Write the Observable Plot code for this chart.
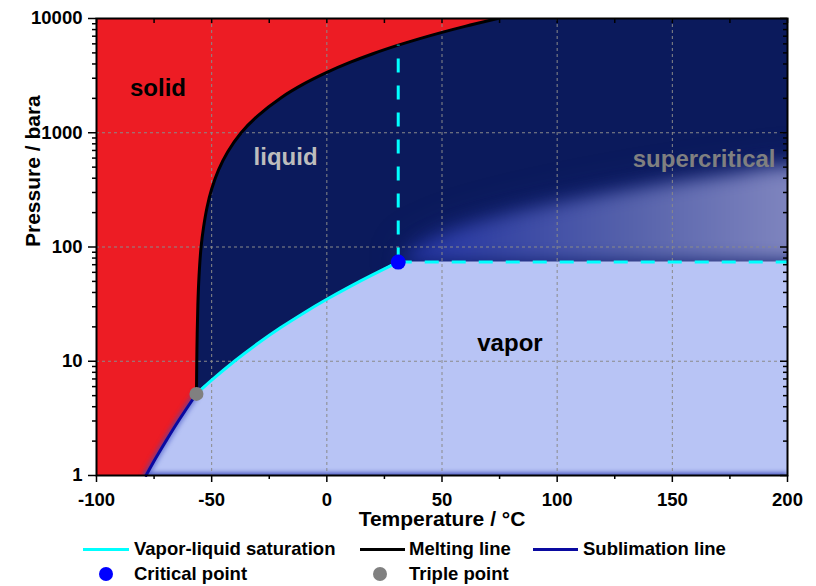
<!DOCTYPE html>
<html>
<head>
<meta charset="utf-8">
<script src="https://cdn.jsdelivr.net/npm/d3@7"></script>
<script src="https://cdn.jsdelivr.net/npm/@observablehq/plot@0.6"></script>
<style>
  body { margin: 0; background: #fff; font-family: "Liberation Sans", Arial, sans-serif; }
  #wrap { position: relative; width: 816px; height: 586px; }
  #legend { position: absolute; left: 0; top: 532px; width: 816px; height: 54px;
            font-weight: bold; font-size: 18.5px; color: #000; }
  .swatch-line { position: absolute; height: 3px; }
  .swatch-dot { position: absolute; border-radius: 50%; }
  .legend-text { position: absolute; white-space: nowrap; line-height: 1; transform: translateY(-50%); }
</style>
</head>
<body>
<div id="wrap">
  <div id="chart"></div>
  <div id="legend"></div>
</div>
<script>
// CO2 phase diagram: temperature (°C) vs pressure (bara, log scale)

// Axis ticks
const tempTicks = [-100, -50, 0, 50, 100, 150, 200];
const tempMinorTicks = [-75, -25, 25, 75, 125, 175];
const pressureTicks = [1, 10, 100, 1000, 10000];

// Sublimation line (solid / vapor)
const sublimationT = [-78.5, -75, -70, -65, -60, -56.6];
const sublimationP = [1.0, 1.34, 1.98, 2.88, 4.10, 5.18];

// Vapor-liquid saturation line (triple point to critical point)
const saturationT = [-56.6, -50, -40, -30, -20, -10, 0, 10, 20, 25, 31.0];
const saturationP = [5.18, 6.82, 10.05, 14.28, 19.70, 26.49, 34.85, 45.02, 57.29, 64.34, 73.8];

// Melting line (solid / liquid)
const meltingT = [-56.6, -56.4, -56.0, -55.5, -54.6, -53.5, -52.0, -50.0, -47.0, -43.0, -37.2,
                  -30.0, -20.0, -10.0, 0.0, 10.0, 20.0, 31.0, 40.0, 50.0, 60.0, 74.2];
const meltingP = [5.18, 12.6, 31, 55, 100, 150, 223, 322, 473, 681, 1000,
                  1407, 2018, 2675, 3376, 4123, 4916, 5840, 6636, 7565, 8540, 10000];

// Lighter, gas-like part of the supercritical region
const supercriticalT = [31, 40, 50, 75, 100, 125, 150, 175, 200];
const supercriticalP = [73.8, 100, 125, 180, 235, 295, 360, 425, 500];

// Special points
const criticalPoint = {T: 31.0, p: 73.8};
const triplePoint = {T: -56.6, p: 5.18};

// Region labels
const regionNames = ["solid", "liquid", "supercritical", "vapor"];
const regionT = [-73.3, -17.9, 163.8, 79.5];
const regionP = [2440, 607, 584, 14.3];
const regionColors = ["#000000", "#bdbdbd", "#808080", "#000000"];

// Legend entries
const legendLabels = ["Vapor-liquid saturation", "Melting line", "Sublimation line", "Critical point", "Triple point"];
const legendColors = ["#00ffff", "#000000", "#0a0aa0", "#0000ff", "#808080"];
const legendKinds = ["line", "line", "line", "dot", "dot"];

// Colours of the phase areas
const solidColor = "#ed1c24";
const liquidColor = "#0b1a5c";
const vaporColor = "#b8c4f5";

const W = 816, H = 532;
const mTop = 18, mBottom = 57, mLeft = 96, mRight = 29;
const frameW = W - mLeft - mRight;
const frameH = H - mTop - mBottom;
const xDomain = [tempTicks[0], tempTicks[tempTicks.length - 1]];
const yDomain = [pressureTicks[0], pressureTicks[pressureTicks.length - 1]];

const zip = (T, P) => T.map((t, i) => ({T: t, p: P[i]}));
const sublimation = zip(sublimationT, sublimationP);
const saturation = zip(saturationT, saturationP);
const melting = zip(meltingT, meltingP);
// the haze is carried a little past the right edge so the blur does not fade there
const supercritical = zip(supercriticalT, supercriticalP);
const last = supercritical[supercritical.length - 1];
const haze = [...supercritical, {T: last.T + 25, p: last.p}];
const vaporEdge = [...sublimation, ...saturation.slice(1), {T: xDomain[1], p: criticalPoint.p}];
const meltingAtCritical = meltingP[meltingT.indexOf(criticalPoint.T)];

const pressureMinorTicks = [];
for (const decade of pressureTicks.slice(0, -1)) {
  for (let k = 2; k <= 9; k++) pressureMinorTicks.push(decade * k);
}

const topTicks = [...tempTicks, ...tempMinorTicks];

const glowColors = {bottom: "#2b39b3", subl: "#3848c1", halo: "#24349f"};

const plot = Plot.plot({
  width: W,
  height: H,
  marginTop: mTop,
  marginBottom: mBottom,
  marginLeft: mLeft,
  marginRight: mRight,
  style: {
    fontFamily: "'Liberation Sans', Arial, sans-serif",
    fontWeight: "bold",
    fontSize: "18.5px",
    color: "#000",
    background: "#fff",
    overflow: "visible"
  },
  x: {domain: xDomain},
  y: {type: "log", domain: yDomain},
  marks: [
    // solid region is the background
    Plot.frame({fill: solidColor}),
    // liquid / supercritical: everything right of the melting line
    Plot.areaX(melting, {y: "p", x1: "T", x2: xDomain[1], fill: liquidColor, curve: "catmull-rom", clip: true}),
    // faint blue halo around the gas-like supercritical zone
    Plot.areaY(haze, {x: "T", y1: criticalPoint.p, y2: "p", fill: glowColors.halo, fillOpacity: 0.45, curve: "monotone-x", clip: true}),
    // lighter supercritical haze
    Plot.areaY(haze, {x: "T", y1: criticalPoint.p, y2: "p", fill: "url(#scGlow)", curve: "monotone-x", clip: true}),
    // vapor region
    Plot.areaY(vaporEdge, {x: "T", y1: yDomain[0], y2: "p", fill: vaporColor, curve: "monotone-x"}),
    Plot.ruleY([yDomain[0]], {x1: sublimationT[0], x2: xDomain[1], stroke: glowColors.bottom, strokeWidth: 6, strokeOpacity: 0.75, clip: true}),
    Plot.line(sublimation, {x: "T", y: "p", stroke: glowColors.subl, strokeWidth: 7, strokeOpacity: 0.55, curve: "monotone-x", clip: true}),
    // grid
    Plot.gridX(tempTicks.slice(1, -1), {stroke: "#8a8a8a", strokeOpacity: 1, strokeWidth: 1, strokeDasharray: "3,3"}),
    Plot.gridY(pressureTicks.slice(1, -1), {stroke: "#8a8a8a", strokeOpacity: 1, strokeWidth: 1, strokeDasharray: "3,3"}),
    // phase boundaries
    Plot.line(sublimation, {x: "T", y: "p", stroke: "#0a0aa0", strokeWidth: 3, curve: "monotone-x"}),
    Plot.line(saturation, {x: "T", y: "p", stroke: "#00ffff", strokeWidth: 3, curve: "monotone-x"}),
    Plot.line(melting, {x: "T", y: "p", stroke: "#000", strokeWidth: 3, curve: "catmull-rom", clip: true}),
    // critical isotherm and isobar
    Plot.ruleX([criticalPoint.T], {y1: criticalPoint.p, y2: meltingAtCritical, stroke: "#00ffff", strokeWidth: 3, strokeDasharray: "14,13"}),
    Plot.ruleY([criticalPoint.p], {x1: criticalPoint.T, x2: xDomain[1], stroke: "#00ffff", strokeWidth: 3, strokeDasharray: "14,13"}),
    // special points
    Plot.dot([triplePoint], {x: "T", y: "p", r: 7, fill: "#808080"}),
    Plot.dot([criticalPoint], {x: "T", y: "p", r: 7.5, fill: "#0000ff"}),
    // region labels
    ...regionNames.map((name, i) =>
      Plot.text([name], {x: () => regionT[i], y: () => regionP[i], text: d => d, fill: regionColors[i], fontSize: 24, fontWeight: "bold"})
    ),
    // axes
    Plot.axisX(tempTicks, {anchor: "bottom", tickSize: 7, tickPadding: 10, tickFormat: d => String(d), label: null, strokeWidth: 1.5}),
    Plot.axisX(tempMinorTicks, {anchor: "bottom", tickSize: 4, tickFormat: () => "", label: null, strokeWidth: 1.5}),
    Plot.ruleX(topTicks, {insetBottom: frameH - 5, stroke: "#000", strokeWidth: 1.5}),
    Plot.axisY(pressureTicks, {anchor: "left", tickSize: 8, tickPadding: 6, tickFormat: d => String(d), label: null, strokeWidth: 1.5}),
    Plot.axisY(pressureMinorTicks, {anchor: "left", tickSize: 4, tickFormat: () => "", label: null, strokeWidth: 1.5}),
    Plot.ruleY(pressureTicks, {insetLeft: frameW - 7, stroke: "#000", strokeWidth: 1.5}),
    Plot.ruleY(pressureMinorTicks, {insetLeft: frameW - 4, stroke: "#000", strokeWidth: 1.5}),
    Plot.frame({stroke: "#000", strokeWidth: 2}),
    // axis titles
    Plot.text(["Temperature / °C"], {frameAnchor: "bottom", dy: 50, text: d => d, fontSize: 21, fontWeight: "bold"}),
    Plot.text(["Pressure / bara"], {frameAnchor: "left", dx: -63, rotate: -90, text: d => d, fontSize: 21, fontWeight: "bold"})
  ]
});

// gradient for the supercritical haze, placed along the temperature axis
const xs = plot.scale("x");
const svg = d3.select(plot);
const defs = svg.insert("defs", ":first-child");
const grad = defs.append("linearGradient")
  .attr("id", "scGlow")
  .attr("gradientUnits", "userSpaceOnUse")
  .attr("x1", xs.apply(criticalPoint.T)).attr("y1", 0)
  .attr("x2", xs.apply(xDomain[1])).attr("y2", 0);
[[0, "#2233a6"], [0.25, "#3645a4"], [0.6, "#5662ab"], [1, "#7e84be"]].forEach(([o, c]) =>
  grad.append("stop").attr("offset", o).attr("stop-color", c));

svg.selectAll(`g[fill="${glowColors.halo}"]`).style("filter", "blur(18px)");
svg.selectAll('g[fill="url(#scGlow)"]').style("filter", "blur(9px)");
svg.selectAll(`g[stroke="${glowColors.bottom}"]`).style("filter", "blur(2px)");
svg.selectAll(`g[stroke="${glowColors.subl}"]`).style("filter", "blur(2px)");

document.getElementById("chart").appendChild(plot);

// legend below the chart
const legendPos = [
  {row: 0, sx: 83, sw: 46, tx: 134},
  {row: 0, sx: 360, sw: 45, tx: 409},
  {row: 0, sx: 533, sw: 45, tx: 583},
  {row: 1, sx: 106, sw: 14, tx: 134},
  {row: 1, sx: 380, sw: 14, tx: 409}
];
const rowY = [17, 42];
const legend = document.getElementById("legend");
legendLabels.forEach((label, i) => {
  const pos = legendPos[i];
  const y = rowY[pos.row];
  const sw = document.createElement("div");
  if (legendKinds[i] === "line") {
    sw.className = "swatch-line";
    sw.style.left = pos.sx + "px";
    sw.style.width = pos.sw + "px";
    sw.style.top = (y - 1.5) + "px";
  } else {
    sw.className = "swatch-dot";
    sw.style.left = (pos.sx - pos.sw / 2) + "px";
    sw.style.width = pos.sw + "px";
    sw.style.height = pos.sw + "px";
    sw.style.top = (y - pos.sw / 2) + "px";
  }
  sw.style.background = legendColors[i];
  legend.appendChild(sw);
  const t = document.createElement("div");
  t.className = "legend-text";
  t.style.left = pos.tx + "px";
  t.style.top = y + "px";
  t.textContent = label;
  legend.appendChild(t);
});
</script>
</body>
</html>
